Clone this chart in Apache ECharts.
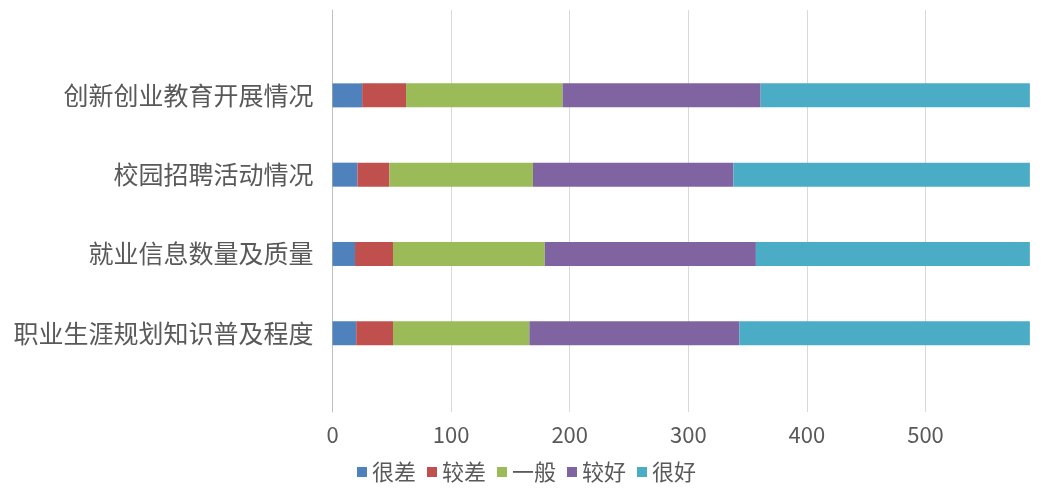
<!DOCTYPE html>
<html>
<head>
<meta charset="utf-8">
<script src="https://cdn.jsdelivr.net/npm/echarts@6/dist/echarts.min.js"></script>
<style>
html,body{margin:0;padding:0;background:#fff;}
#c{width:1045px;height:504px;}
</style>
</head>
<body>
<div id="c"></div>
<script>
var categories = ['创新创业教育开展情况', '校园招聘活动情况', '就业信息数量及质量', '职业生涯规划知识普及程度'];
var seriesNames = ['很差', '较差', '一般', '较好', '很好'];
var s1 = [25, 21, 19, 20];
var s2 = [37, 27, 32, 31];
var s3 = [132, 121, 128, 115];
var s4 = [167, 169, 178, 177];
var s5 = [227, 250, 231, 245];
var axisMax = 600;
var axisStep = 100;

var colors = ['#4F81BD', '#C0504D', '#9BBB59', '#8064A2', '#4BACC6'];
var values = [s1, s2, s3, s4, s5];
var font = '"Noto Sans CJK SC", "Noto Sans", sans-serif';

var chart = echarts.init(document.getElementById('c'), null, {renderer: 'canvas'});
chart.setOption({
  animation: false,
  color: colors,
  grid: [
    {left: 332.5, width: 711.6, top: 55.7, height: 317.2},
    {left: 332.5, width: 711.6, top: 10, height: 402}
  ],
  xAxis: [
    {gridIndex: 0, type: 'value', min: 0, max: axisMax, interval: axisStep, show: false},
    {gridIndex: 1, type: 'value', min: 0, max: axisMax, interval: axisStep,
      axisLine: {show: false}, axisTick: {show: false},
      splitLine: {show: true, showMaxLine: false, lineStyle: {color: '#d9d9d9', width: 1}},
      axisLabel: {show: true, showMaxLabel: false, color: '#595959', fontSize: 22, fontFamily: font, margin: 12}
    }
  ],
  yAxis: [
    {gridIndex: 0, type: 'category', data: categories, inverse: true,
      axisLine: {show: false}, axisTick: {show: false},
      axisLabel: {color: '#595959', fontSize: 25, fontFamily: font, margin: 19}
    },
    {gridIndex: 1, type: 'value', min: 0, max: 1,
      axisLine: {show: true, lineStyle: {color: '#bfbfbf', width: 1}},
      axisTick: {show: false}, axisLabel: {show: false}, splitLine: {show: false}
    }
  ],
  legend: {
    data: seriesNames,
    left: 352,
    top: 456,
    icon: 'rect',
    itemWidth: 10,
    itemHeight: 10,
    itemGap: 11,
    textStyle: {color: '#595959', fontSize: 22, fontFamily: font}
  },
  series: seriesNames.map(function (n, i) {
    return {
      name: n,
      type: 'bar',
      stack: 'total',
      xAxisIndex: 0,
      yAxisIndex: 0,
      barWidth: 24,
      data: values[i],
      itemStyle: {color: colors[i]}
    };
  })
});
</script>
</body>
</html>
